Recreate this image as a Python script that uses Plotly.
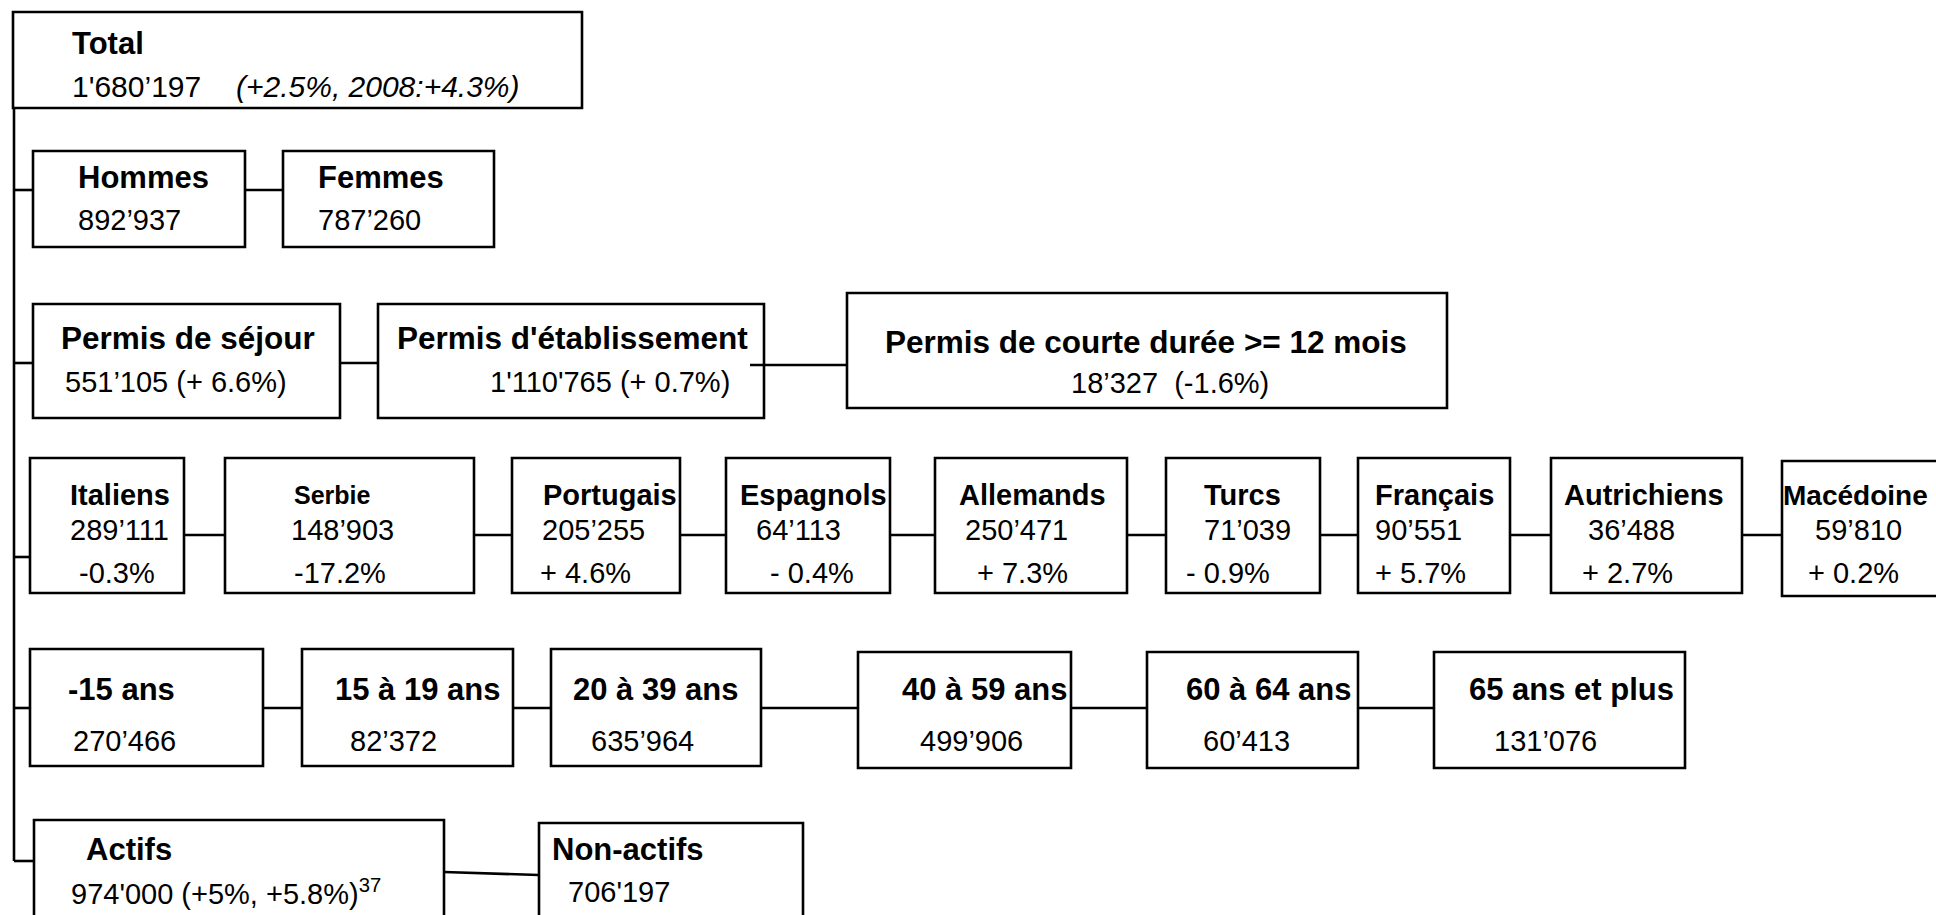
import plotly.graph_objects as go

# ---------------- data ----------------
total_label = "Total"
total_value = "1'680’197"
total_change = "(+2.5%, 2008:+4.3%)"

sex_labels = ["Hommes", "Femmes"]
sex_values = ["892’937", "787’260"]

permit_labels = ["Permis de séjour", "Permis d'établissement", "Permis de courte durée >= 12 mois"]
permit_values = ["551’105 (+ 6.6%)", "1'110'765 (+ 0.7%)", "18’327\u00a0 (-1.6%)"]

nat_labels = ["Italiens", "Serbie", "Portugais", "Espagnols", "Allemands",
              "Turcs", "Français", "Autrichiens", "Macédoine"]
nat_values = ["289’111", "148’903", "205’255", "64’113", "250’471",
              "71’039", "90’551", "36’488", "59’810"]
nat_changes = ["-0.3%", "-17.2%", "+ 4.6%", "- 0.4%", "+ 7.3%",
               "- 0.9%", "+ 5.7%", "+ 2.7%", "+ 0.2%"]

age_labels = ["-15 ans", "15 à 19 ans", "20 à 39 ans", "40 à 59 ans", "60 à 64 ans", "65 ans et plus"]
age_values = ["270’466", "82’372", "635’964", "499’906", "60’413", "131’076"]

act_labels = ["Actifs", "Non-actifs"]
act_values = ["974'000 (+5%, +5.8%)", "706'197"]
act_notes = ["37", ""]

# ---------------- layout (page pixels) ----------------
W, H = 1936, 915
LW = 2.6
FONT = "Liberation Sans, Arial, sans-serif"
INK = "#000000"

trunk_x = 14
trunk_y0, trunk_y1 = 108, 861

total_box = (13, 12, 582, 108)
total_pos = dict(label=(70, 43), value=(70, 86), change=(234, 86))

sex_boxes = [(33, 151, 245, 247), (283, 151, 494, 247)]
sex_label_x = [76, 316]
sex_value_x = [76, 316]
sex_label_y, sex_value_y, sex_link_y = 177, 220, 190

permit_boxes = [(33, 304, 340, 418), (378, 304, 764, 418), (847, 293, 1447, 408)]
permit_label_pos = [(59, 338, "left"), (395, 338, "left"), (1146, 342, "center")]
permit_value_pos = [(63, 382, "left"), (488, 382, "left"), (1170, 383, "center")]
permit_link_y = 363
permit_link2 = (750, 365)  # start of link from inside 2nd box to 3rd box

nat_boxes = [(30, 458, 184, 593), (225, 458, 474, 593), (512, 458, 680, 593),
             (726, 458, 890, 593), (935, 458, 1127, 593), (1166, 458, 1320, 593),
             (1358, 458, 1510, 593), (1551, 458, 1742, 593), (1782, 461, 1960, 596)]
nat_label_x = [68, 292, 541, 738, 957, 1202, 1373, 1562, 1781]
nat_value_x = [68, 289, 540, 754, 963, 1202, 1373, 1586, 1813]
nat_change_x = [77, 292, 538, 768, 975, 1184, 1373, 1580, 1806]
nat_label_size = [29, 25, 29, 29, 29, 29, 29, 29, 28]
nat_label_y, nat_value_y, nat_change_y = 495, 530, 573
nat_link_y, nat_trunk_y = 535, 557

age_boxes = [(30, 649, 263, 766), (302, 649, 513, 766), (551, 649, 761, 766),
             (858, 652, 1071, 768), (1147, 652, 1358, 768), (1434, 652, 1685, 768)]
age_label_x = [66, 333, 571, 900, 1184, 1467]
age_value_x = [71, 348, 589, 918, 1201, 1492]
age_label_y, age_value_y, age_link_y = 689, 741, 708

act_boxes = [(34, 820, 444, 940), (539, 823, 803, 940)]
act_label_x = [84, 550]
act_value_x = [69, 566]
act_label_y, act_value_y = 849, 892
act_link = ((444, 872), (539, 875))

# ---------------- figure ----------------
fig = go.Figure()
shapes = []
annos = []


def box(b):
    shapes.append(dict(type="rect", xref="x", yref="y", x0=b[0], y0=b[1], x1=b[2], y1=b[3],
                       line=dict(color=INK, width=LW), fillcolor="rgba(0,0,0,0)"))


def line(x0, y0, x1, y1):
    shapes.append(dict(type="line", xref="x", yref="y", x0=x0, y0=y0, x1=x1, y1=y1,
                       line=dict(color=INK, width=LW)))


def text(x, y, s, size, bold=False, anchor="left", italic=False):
    if bold:
        s = "<b>" + s + "</b>"
    if italic:
        s = "<i>" + s + "</i>"
    annos.append(dict(x=x, y=y, xref="x", yref="y", text=s, showarrow=False,
                      xanchor=anchor, yanchor="middle",
                      font=dict(family=FONT, size=size, color=INK)))


# trunk
line(trunk_x, trunk_y0, trunk_x, trunk_y1)

# total
box(total_box)
text(*total_pos["label"], total_label, 31, bold=True)
text(*total_pos["value"], total_value, 30)
text(*total_pos["change"], total_change, 30, italic=True)

# sex
for i, b in enumerate(sex_boxes):
    box(b)
    text(sex_label_x[i], sex_label_y, sex_labels[i], 31, bold=True)
    text(sex_value_x[i], sex_value_y, sex_values[i], 29)
line(trunk_x, sex_link_y, sex_boxes[0][0], sex_link_y)
for i in range(len(sex_boxes) - 1):
    line(sex_boxes[i][2], sex_link_y, sex_boxes[i + 1][0], sex_link_y)

# permits
for i, b in enumerate(permit_boxes):
    box(b)
    lx, ly, la = permit_label_pos[i]
    vx, vy, va = permit_value_pos[i]
    text(lx, ly, permit_labels[i], 31.5, bold=True, anchor=la)
    text(vx, vy, permit_values[i], 29, anchor=va)
line(trunk_x, permit_link_y, permit_boxes[0][0], permit_link_y)
line(permit_boxes[0][2], permit_link_y, permit_boxes[1][0], permit_link_y)
line(permit_link2[0], permit_link2[1], permit_boxes[2][0], permit_link2[1])

# nationalities
for i, b in enumerate(nat_boxes):
    box(b)
    text(nat_label_x[i], nat_label_y, nat_labels[i], nat_label_size[i], bold=True)
    text(nat_value_x[i], nat_value_y, nat_values[i], 29)
    text(nat_change_x[i], nat_change_y, nat_changes[i], 29)
line(trunk_x, nat_trunk_y, nat_boxes[0][0], nat_trunk_y)
for i in range(len(nat_boxes) - 1):
    line(nat_boxes[i][2], nat_link_y, nat_boxes[i + 1][0], nat_link_y)

# ages
for i, b in enumerate(age_boxes):
    box(b)
    text(age_label_x[i], age_label_y, age_labels[i], 31, bold=True)
    text(age_value_x[i], age_value_y, age_values[i], 29)
line(trunk_x, age_link_y, age_boxes[0][0], age_link_y)
for i in range(len(age_boxes) - 1):
    line(age_boxes[i][2], age_link_y, age_boxes[i + 1][0], age_link_y)

# activity
for i, b in enumerate(act_boxes):
    box(b)
    text(act_label_x[i], act_label_y, act_labels[i], 31, bold=True)
    v = act_values[i] + ("<sup>" + act_notes[i] + "</sup>" if act_notes[i] else "")
    text(act_value_x[i], act_value_y, v, 29)
line(trunk_x, trunk_y1, act_boxes[0][0], trunk_y1)
line(act_link[0][0], act_link[0][1], act_link[1][0], act_link[1][1])

fig.update_layout(
    width=W, height=H, autosize=False,
    margin=dict(l=0, r=0, t=0, b=0, pad=0),
    paper_bgcolor="white", plot_bgcolor="white",
    showlegend=False,
    xaxis=dict(range=[0, W], visible=False, fixedrange=True),
    yaxis=dict(range=[H, 0], visible=False, fixedrange=True),
    shapes=shapes, annotations=annos,
)

fig.write_html("out.html", config=dict(displayModeBar=False),
               post_script="document.body.style.margin='0';document.body.style.overflow='hidden';")
